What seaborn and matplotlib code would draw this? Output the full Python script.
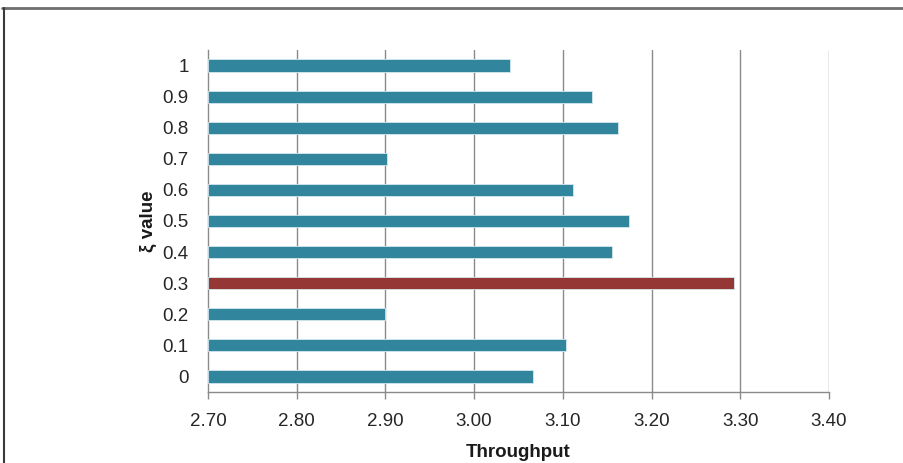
import matplotlib
matplotlib.use("Agg")
import matplotlib.pyplot as plt
from matplotlib.lines import Line2D
import seaborn as sns
import pandas as pd

# Throughput measured for each ξ setting (top to bottom as drawn)
xi_labels = ["1", "0.9", "0.8", "0.7", "0.6", "0.5", "0.4", "0.3", "0.2", "0.1", "0"]
throughput = [3.040, 3.133, 3.162, 2.902, 3.111, 3.174, 3.155, 3.293, 2.900, 3.103, 3.066]
x_ticks = [2.70, 2.80, 2.90, 3.00, 3.10, 3.20, 3.30, 3.40]
best_label = "0.3"

TEAL = "#31859C"
RED = "#953735"
GRID = "#8a8a8a"

sns.set_theme(style="white")
plt.rcParams["font.family"] = ["Liberation Sans", "DejaVu Sans"]

df = pd.DataFrame({"xi": xi_labels, "throughput": throughput})
palette = {lab: (RED if lab == best_label else TEAL) for lab in xi_labels}

fig = plt.figure(figsize=(9.04, 4.63), dpi=100)
ax = fig.add_axes([208 / 904, 1 - 392 / 463, (829 - 208) / 904, (392 - 50) / 463])

sns.barplot(data=df, x="throughput", y="xi", hue="xi", palette=palette,
            order=xi_labels, orient="h", width=0.39, legend=False,
            saturation=1, ax=ax, edgecolor="#d6e8ee", linewidth=0.6, zorder=3)

# Bars start at the left edge of the value axis
for patch in ax.patches:
    x0 = patch.get_x()
    w = patch.get_width()
    patch.set_x(x_ticks[0])
    patch.set_width(x0 + w - x_ticks[0])

ax.set_xlim(x_ticks[0], x_ticks[-1])
ax.set_xticks(x_ticks)
ax.set_xticklabels([f"{t:.2f}" for t in x_ticks])
ax.set_ylim(len(xi_labels) - 0.5, -0.5)

for t in x_ticks[1:]:
    ax.axvline(t, color=GRID, linewidth=1.0, zorder=1)

for side in ["top", "right"]:
    ax.spines[side].set_visible(False)
for side in ["left", "bottom"]:
    ax.spines[side].set_color(GRID)
    ax.spines[side].set_linewidth(1.0)

ax.tick_params(axis="x", direction="out", length=5, width=1, color=GRID,
               labelsize=13.5, labelcolor="#262626", pad=10, bottom=True)
ax.tick_params(axis="y", length=0, labelsize=13.5, labelcolor="#262626", pad=14)

ax.set_xlabel("Throughput", fontsize=13.5, fontweight="bold", color="#1a1a1a", labelpad=10)
ax.set_ylabel("ξ value", fontsize=13.5, fontweight="bold", color="#1a1a1a", labelpad=4)

# Outer chart frame: top and left edges
fig.add_artist(Line2D([2 / 904, 1.0], [1 - 8 / 463, 1 - 8 / 463],
                      transform=fig.transFigure, color="#6e6e6e", linewidth=2))
fig.add_artist(Line2D([4 / 904, 4 / 904], [0.0, 1 - 8 / 463],
                      transform=fig.transFigure, color="#3a3a3a", linewidth=1.5))

fig.savefig("out.png", dpi=100)
